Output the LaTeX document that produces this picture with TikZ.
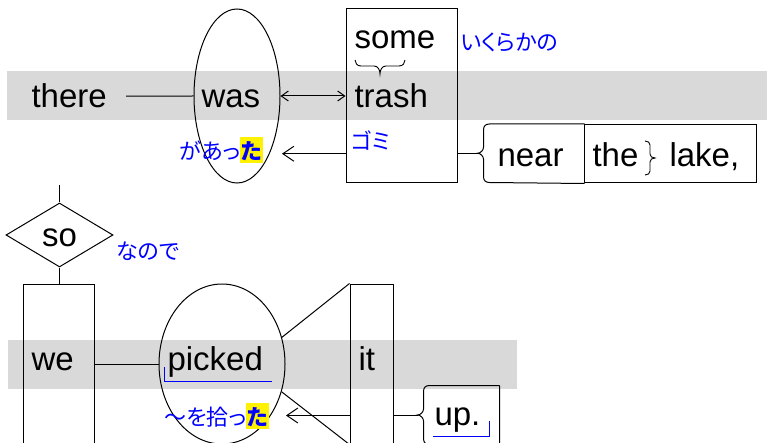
\documentclass[tikz,border=0pt]{standalone}
\usepackage{fontspec}
\setmainfont{Liberation Sans}
\newfontfamily\jpfont[RawFeature=+palt]{Noto Sans CJK JP}
\usetikzlibrary{shapes.geometric,arrows.meta}
\newcommand\hlchar[1]{{\setlength\fboxsep{0.5pt}\colorbox{yellow}{\rule[-3pt]{0pt}{25pt}\bfseries #1}}}

\begin{document}
\begin{tikzpicture}[x=1pt,y=-1pt,line width=1pt,
  word/.style={font=\fontsize{33}{38}\selectfont, inner sep=0pt, anchor=base west},
  jp/.style={font=\jpfont\fontsize{22}{24}\selectfont, text=blue, inner sep=0pt, anchor=base west},
  band/.style={fill=black!15},
  box/.style={draw, inner sep=0pt},
  oval/.style={draw, ellipse, inner sep=0pt},
  small tip/.style={{Straight Barb[length=7pt,width=10pt]}-{Straight Barb[length=7pt,width=10pt]}},
  big tip/.style={-{Straight Barb[length=11pt,width=15pt]}}]
\useasboundingbox (0,0) rectangle (767,443);
\clip (0,0) rectangle (767,443);

% gray bands
\path[band] (7,71) rectangle (767,120);
\path[band] (8,340) rectangle (517,389);

% first sentence
\node[oval, minimum width=86, minimum height=174] (wasE) at (237,96) {};
\node[box, minimum width=111, minimum height=174] (trashbox) at (401.5,96) {};
\node[minimum width=94, minimum height=58.5, inner sep=0pt] (nearcell) at (537,153.75) {};
\node[box, minimum width=172, minimum height=58.5] (lakecell) at (670,153.75) {};
\coordinate (nearTip) at (478,153.75);

\node[word] (there) at (31,108) {there};
\node[word] (was) at (201,108) {was};
\node[word] (some) at (354,48.5) {some};
\node[word] (trash) at (354,108) {trash};
\node[word] (near) at (497,167) {near};
\node[word] (the) at (592,167) {the};
\node[word] (lake) at (669,167) {lake,};

\node[jp] (ikura) at (460,51) {いくらかの};
\node[jp] (gomi) at (351,150) {ゴミ};
\node[jp, anchor=base east] (aru) at (263,160) {があっ\hlchar{た}};
\coordinate (aruTip) at ([xshift=19pt]aru.east);

\path[draw,shorten <=19pt] (there.east) -- (wasE.west);
\path[draw,small tip] (wasE.east) -- (trashbox.west);
\path[draw,big tip] (trashbox.west |- nearTip) -- (aruTip |- nearTip);
\path[draw] (trashbox.east |- nearTip) -- (nearTip);

% braces
\path[draw] (nearcell.north east) -- (nearcell.north west)
  .. controls +(-4,0) and +(0,-4) .. ++(-6,6) -- ++(0,17.25)
  .. controls +(0,3) and +(3,0) .. ++(-6,6)
  .. controls +(3,0) and +(0,-3) .. ++(6,6) -- ++(0,17.25)
  .. controls +(0,4) and +(-4,0) .. ++(6,6) -- (nearcell.south east);
\path[draw,line width=0.9pt] (355,60) .. controls (355,63) and (357,66) .. (361,66) -- (374,66)
  .. controls (378,66) and (380,70) .. (380,74) .. controls (380,70) and (382,66) .. (386,66)
  -- (399,66) .. controls (403,66) and (405,63) .. (405,60);
\path[draw,line width=0.9pt] (645,141) .. controls (648,141) and (650,142.5) .. (650,145) -- (650,154)
  .. controls (650,156.5) and (652,158) .. (655,158) .. controls (652,158) and (650,159.5) .. (650,162)
  -- (650,171) .. controls (650,173.5) and (648,175) .. (645,175);

% second sentence
\coordinate (soTop) at (59.5,185);
\node[draw, diamond, inner sep=0pt, minimum width=107, minimum height=64] (soD) at (59.5,235) {};
\node[word, anchor=base] (so) at (59.5,247) {so};
\node[jp] (nanode) at (116,260) {なので};
\node[box, minimum width=71, minimum height=180] (weBox) at (58.5,374) {};
\node[oval, minimum width=126, minimum height=160] (pickedE) at (222,364) {};
\node[box, minimum width=43, minimum height=160] (itbox) at (371.5,364) {};
\node[minimum width=69, minimum height=59, inner sep=0pt] (upcell) at (464.5,415.5) {};
\coordinate (upTip) at (418,415.5);

\node[word] (we) at (31,370) {we};
\node[word] (picked) at (167,370) {picked};
\node[word] (it) at (358,370) {it};
\node[word] (up) at (434,425) {up.};
\node[jp, anchor=base east] (hirotta) at (269,425) {～を拾っ\hlchar{た}};
\coordinate (hiroTip) at ([xshift=17pt]hirotta.east);

\path[draw] (soTop) -- (soD.north);
\path[draw] (soD.south) -- (soD.south |- weBox.north);
\path[draw] (weBox.east |- pickedE.west) -- (pickedE.west);
\path[draw] (pickedE.24) -- (itbox.north west);
\path[draw] (pickedE.-25) -- (itbox.south west);
\path[draw,big tip] (itbox.west |- upTip) -- (hiroTip |- upTip);
\path[draw] (itbox.east |- upTip) -- (upTip);

\path[draw] (upcell.north east) -- (upcell.north west)
  .. controls +(-4,0) and +(0,-4) .. ++(-6,6) -- ++(0,17.5)
  .. controls +(0,3) and +(3,0) .. ++(-6,6)
  .. controls +(3,0) and +(0,-3) .. ++(6,6) -- ++(0,17.5)
  .. controls +(0,4) and +(-4,0) .. ++(6,6) -- (upcell.south east) -- (upcell.north east);

% blue marks
\path[draw,blue,line width=0.9pt] (164,367) -- (164,381.5) -- (272,381.5);
\path[draw,blue,line width=0.9pt] (433,436) -- (489,436) -- (489,421);
\end{tikzpicture}
\end{document}
